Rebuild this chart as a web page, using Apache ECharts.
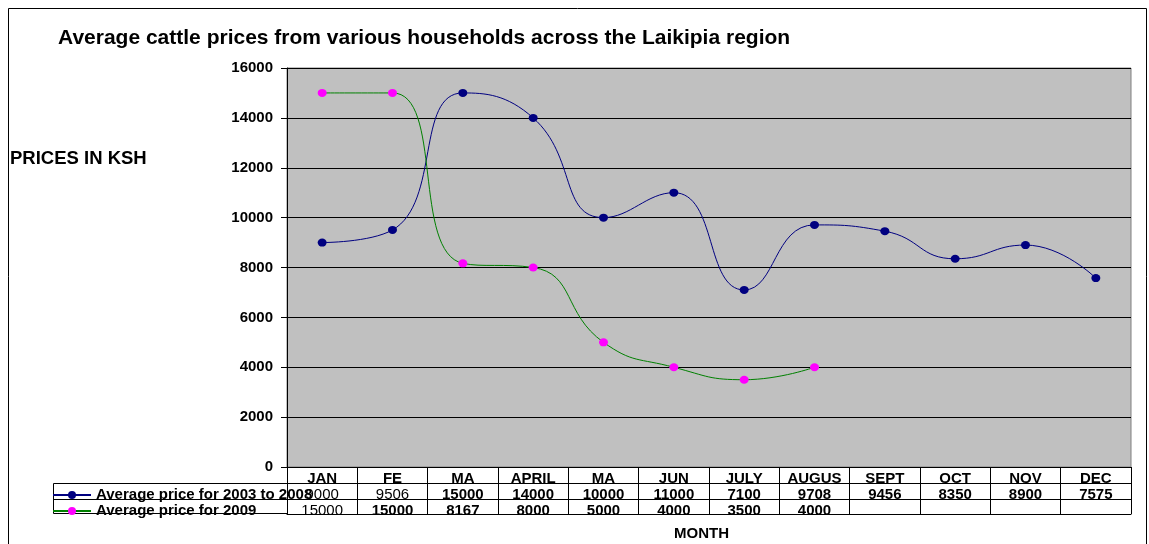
<!DOCTYPE html>
<html>
<head>
<meta charset="utf-8">
<script src="https://cdn.jsdelivr.net/npm/echarts@6/dist/echarts.min.js"></script>
<style>
  html, body { margin: 0; padding: 0; background: #fff; }
  #main { width: 1149px; height: 544px; }
</style>
</head>
<body>
<div id="main"></div>
<script>
// 月份（原表里的缩写照抄）
const months = ['JAN', 'FE', 'MA', 'APRIL', 'MA', 'JUN', 'JULY', 'AUGUS', 'SEPT', 'OCT', 'NOV', 'DEC']
const price0308 = [9000, 9506, 15000, 14000, 10000, 11000, 7100, 9708, 9456, 8350, 8900, 7575]
const price2009 = [15000, 15000, 8167, 8000, 5000, 4000, 3500, 4000, null, null, null, null]
// 表格里显示的文字
const row0308 = ['9000', '9506', '15000', '14000', '10000', '11000', '7100', '9708', '9456', '8350', '8900', '7575']
const row2009 = ['15000', '15000', '8167', '8000', '5000', '4000', '3500', '4000', '', '', '', '']
const yTicks = { min: 0, max: 16000, interval: 2000 }
const names = ['Average price for 2003 to 2008', 'Average price for 2009']

const font = 'Liberation Sans, Arial, sans-serif'
const myChart = echarts.init(document.getElementById('main'))

// 表格的一行 = 一条额外的 x 轴
function tableAxis(offset, data, tickLen, thinIdx) {
  return {
    type: 'category',
    position: 'bottom',
    offset: offset,
    data: data,
    boundaryGap: true,
    axisLine: { show: true, lineStyle: { color: '#000', width: 1 } },
    axisTick: { show: tickLen > 0, interval: 0, length: tickLen, lineStyle: { color: '#000' } },
    axisLabel: {
      show: true,
      interval: 0,
      margin: 4,
      color: '#000',
      fontFamily: font,
      fontSize: 15,
      fontWeight: 'bold',
      formatter: function (v, i) {
        return thinIdx && thinIdx.indexOf(i) >= 0 ? '{t|' + v + '}' : v
      },
      rich: { t: { fontWeight: 'normal', fontSize: 15, fontFamily: font, color: '#000' } }
    },
    splitLine: { show: false }
  }
}

const option = {
  animation: false,
  backgroundColor: '#fff',
  title: {
    text: 'Average cattle prices from various households across the Laikipia region',
    left: 53,
    top: 23,
    textStyle: { fontFamily: font, fontSize: 21, fontWeight: 'bold', color: '#000' }
  },
  legend: {
    orient: 'vertical',
    left: 52,
    top: 487,
    padding: 0,
    itemGap: 0,
    itemWidth: 38,
    itemHeight: 10,
    textStyle: { fontFamily: font, fontSize: 15, fontWeight: 'bold', color: '#000', lineHeight: 16 },
    data: names
  },
  grid: {
    left: 287,
    right: 18,
    top: 68,
    bottom: 77,
    show: true,
    backgroundColor: '#C0C0C0',
    borderColor: '#808080',
    borderWidth: 1
  },
  xAxis: [
    tableAxis(0, months, 16),
    tableAxis(16, row0308, 16, [0, 1]),
    tableAxis(32, row2009, 15, [0]),
    {
      type: 'category',
      position: 'bottom',
      offset: 47,
      data: months,
      axisLine: { show: true, lineStyle: { color: '#000' } },
      axisTick: { show: false },
      axisLabel: { show: false }
    }
  ],
  yAxis: {
    type: 'value',
    min: yTicks.min,
    max: yTicks.max,
    interval: yTicks.interval,
    axisLine: { show: true, lineStyle: { color: '#000' } },
    axisTick: { show: true, length: 6, lineStyle: { color: '#000' } },
    axisLabel: {
      color: '#000', fontFamily: font, fontSize: 15, fontWeight: 'bold', margin: 14,
      formatter: function (v) { return String(v) }
    },
    splitLine: { show: true, lineStyle: { color: '#000', width: 1 } }
  },
  graphic: [
    // 外框
    {
      type: 'rect',
      shape: { x: 8.5, y: 8.5, width: 1138, height: 560 },
      style: { fill: null, stroke: '#000', lineWidth: 1 },
      silent: true
    },
    // 图例那一列的格子
    {
      type: 'rect',
      shape: { x: 53.5, y: 483.5, width: 234, height: 30 },
      style: { fill: null, stroke: '#000', lineWidth: 1 },
      silent: true
    },
    {
      type: 'line',
      shape: { x1: 53.5, y1: 499.5, x2: 287, y2: 499.5 },
      style: { stroke: '#000', lineWidth: 1 },
      silent: true
    },
    {
      type: 'text',
      left: 10,
      top: 149,
      style: { text: 'PRICES IN KSH', font: 'bold 18.5px ' + font, fill: '#000' }
    },
    {
      type: 'text',
      left: 674,
      top: 526,
      style: { text: 'MONTH', font: 'bold 15px ' + font, fill: '#000' }
    }
  ],
  series: [
    {
      name: names[0],
      type: 'line',
      xAxisIndex: 0,
      smooth: 0.5,
      symbol: 'circle',
      symbolSize: [9, 8],
      data: price0308,
      lineStyle: { color: '#000080', width: 1 },
      itemStyle: { color: '#000080' }
    },
    {
      name: names[1],
      type: 'line',
      xAxisIndex: 0,
      smooth: 0.5,
      symbol: 'circle',
      symbolSize: [9, 8],
      data: price2009,
      lineStyle: { color: '#008000', width: 1 },
      itemStyle: { color: '#FF00FF' }
    }
  ]
}
myChart.setOption(option)
</script>
</body>
</html>
